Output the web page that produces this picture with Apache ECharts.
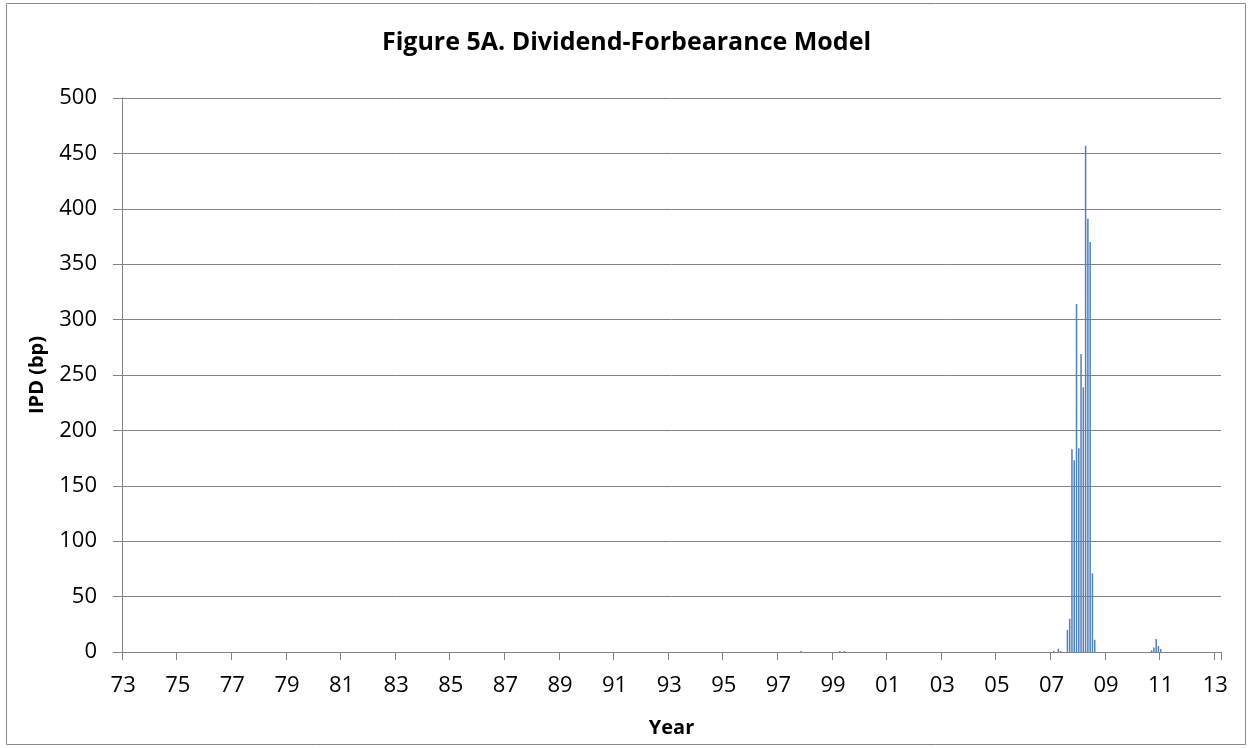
<!DOCTYPE html>
<html>
<head>
<meta charset="utf-8">
<script src="https://cdn.jsdelivr.net/npm/echarts@6/dist/echarts.min.js"></script>
<style>
html,body{margin:0;padding:0;background:#fff;}
#chart{width:1253px;height:748px;}
</style>
</head>
<body>
<div id="chart"></div>
<script>
// ---- Data ----
var titleText = 'Figure 5A. Dividend-Forbearance Model';
var xAxisName = 'Year';
var yAxisName = 'IPD (bp)';
var startYear = 1973, endYear = 2013, endMonth = 3;   // monthly observations
var yTicks = [0, 50, 100, 150, 200, 250, 300, 350, 400, 450, 500];
// months with non-zero IPD (all other months are zero)
var spikeMonths = ['1997-11', '1999-04', '1999-06',
  '2007-02', '2007-04', '2007-05', '2007-08', '2007-09', '2007-10', '2007-11', '2007-12',
  '2008-01', '2008-02', '2008-03', '2008-04', '2008-05', '2008-06', '2008-07', '2008-08',
  '2010-09', '2010-10', '2010-11', '2010-12', '2011-01'];
var spikeValues = [1, 0.8, 0.8,
  1, 3, 1, 20, 30, 183, 173, 314,
  184, 269, 239, 457, 391, 370, 71, 11,
  1.5, 4, 11.7, 5.4, 2.7];

// ---- Build categories & series ----
var categories = [];
for (var y = startYear; y <= endYear; y++) {
  for (var m = 1; m <= 12; m++) {
    if (y === endYear && m > endMonth) break;
    categories.push(y + '-' + (m < 10 ? '0' + m : m));
  }
}
var values = categories.map(function () { return 0; });
spikeMonths.forEach(function (k, i) {
  var idx = categories.indexOf(k);
  if (idx >= 0) values[idx] = spikeValues[i];
});

var FONT = 'Open Sans';
var GRID = '#828282';
var chart = echarts.init(document.getElementById('chart'), null, {renderer: 'canvas'});
function showIdx(i) { return i % 24 === 0; }
chart.setOption({
  animation: false,
  backgroundColor: '#ffffff',
  title: {
    text: titleText,
    left: 'center',
    top: 25,
    textStyle: {fontFamily: FONT, fontSize: 25, fontWeight: 'bold', color: '#000'}
  },
  graphic: [{
    type: 'rect',
    shape: {x: 6.5, y: 3.5, width: 1239, height: 741},
    style: {fill: 'none', stroke: '#898989', lineWidth: 1},
    silent: true
  }],
  grid: {left: 122, right: 32, top: 98, bottom: 96, containLabel: false},
  xAxis: {
    type: 'category',
    data: categories,
    boundaryGap: true,
    name: xAxisName,
    nameLocation: 'middle',
    nameGap: 66,
    nameTextStyle: {fontFamily: FONT, fontSize: 20, fontWeight: 'bold', color: '#000'},
    axisLine: {lineStyle: {color: GRID, width: 1}},
    axisTick: {show: true, interval: function (i) { return showIdx(i); }, length: 8, alignWithLabel: false,
      lineStyle: {color: GRID, width: 1}},
    axisLabel: {
      interval: function (i) { return showIdx(i); },
      formatter: function (v) { return v.slice(2, 4); },
      fontFamily: FONT, fontSize: 22, color: '#000', margin: 23
    },
    splitLine: {show: false}
  },
  yAxis: {
    type: 'value',
    min: yTicks[0],
    max: yTicks[yTicks.length - 1],
    interval: yTicks[1] - yTicks[0],
    name: yAxisName,
    nameLocation: 'middle',
    nameGap: 75,
    nameRotate: 90,
    nameTextStyle: {fontFamily: FONT, fontSize: 20, fontWeight: 'bold', color: '#000'},
    axisLine: {show: true, lineStyle: {color: GRID, width: 1}},
    axisTick: {show: true, length: 9, lineStyle: {color: GRID, width: 1}},
    axisLabel: {fontFamily: FONT, fontSize: 22, color: '#000', margin: 25},
    splitLine: {show: true, lineStyle: {color: GRID, width: 1}}
  },
  series: [{
    type: 'bar',
    data: values,
    barWidth: 1.5,
    itemStyle: {color: '#4F81BD'},
    silent: true
  }]
});
</script>
</body>
</html>
